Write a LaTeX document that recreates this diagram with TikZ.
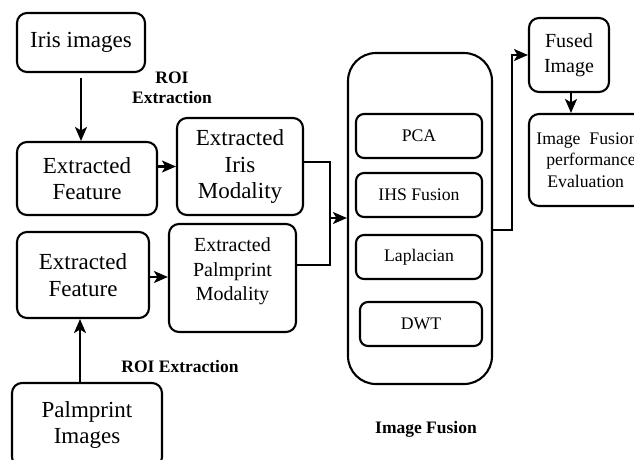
\documentclass[tikz,border=0pt]{standalone}
\usepackage{fontspec}
\setmainfont{Liberation Serif}
\usetikzlibrary{arrows.meta}
\begin{document}
\begin{tikzpicture}[x=1pt,y=-1pt,
  box/.style={draw,line width=2.1pt,rounded corners=10pt,align=center,inner sep=0pt},
  arr/.style={line width=2.1pt,-{Stealth[length=14pt,width=12pt,inset=3.5pt]}},
  ln/.style={line width=2.1pt},
  fbig/.style={font=\fontsize{23}{26.5}\selectfont},
  fmid/.style={font=\fontsize{20}{24.5}\selectfont},
  fsml/.style={font=\fontsize{17.7}{21.5}\selectfont},
  fbold/.style={font=\bfseries\fontsize{17.5}{20}\selectfont,align=center}]
\useasboundingbox (0,0) rectangle (634,459);
% left column
\node[box,fbig,minimum width=128pt,minimum height=59pt] (iris) at (81,42.5) {Iris images};
\node[box,fbig,minimum width=140pt,minimum height=73pt] (featT) at (87,178.5) {Extracted\\Feature};
\node[box,fbig,minimum width=126pt,minimum height=97pt] (irisMod) at (240,166.5) {Extracted\\Iris\\Modality};
\node[box,fbig,minimum width=132pt,minimum height=86pt] (featB) at (83,275) {Extracted\\Feature};
\node[box,minimum width=127pt,minimum height=108pt] (palmMod) at (232.5,278) {};
\node[fmid,align=center] (palmModTxt) at (232.5,271.5) {Extracted\\Palmprint\\Modality};
\node[box,fbig,minimum width=150pt,minimum height=84pt] (palmImg) at (87,425) {Palmprint\\Images};
% fusion block
\node[box,rounded corners=28pt,minimum width=144pt,minimum height=331pt] (fus) at (420,218.5) {};
\node[box,rounded corners=8pt,fsml,minimum width=126pt,minimum height=44pt] (pca) at (419,136) {PCA};
\node[box,rounded corners=8pt,fsml,minimum width=126pt,minimum height=44pt] (ihs) at (419,195) {IHS Fusion};
\node[box,rounded corners=8pt,fsml,minimum width=126pt,minimum height=44pt] (lap) at (419,257) {Laplacian};
\node[box,rounded corners=8pt,fsml,minimum width=122pt,minimum height=44pt] (dwt) at (421,324) {DWT};
% right column
\node[box,fmid,minimum width=80pt,minimum height=74pt] (fused) at (569,55) {Fused\\Image};
\node[box,fsml,align=left,minimum width=116pt,minimum height=92pt] (eval) at (587,160) {Image\ \ Fusion\\\hspace*{10pt}performance\\\hspace*{11pt}Evaluation};
% labels
\node[fbold] (roi1) at (172,88) {ROI\\Extraction};
\node[fbold] (roi2) at (180,367) {ROI Extraction};
\node[fbold] (fuslbl) at (426,429) {Image Fusion};
% connectors
\coordinate (j1) at (330,218);
\coordinate (j2) at (512,230);
\draw[arr] ([yshift=-5pt]iris.south) -- (iris.south |- featT.north);
\draw[arr] (featT.east |- irisMod.west) -- (irisMod.west);
\draw[arr] (featB.east |- 0,277) -- (palmMod.west |- 0,277);
\draw[arr] ([xshift=-7pt]palmImg.north) -- ([xshift=-7pt]palmImg.north |- featB.south);
\draw[ln] ([yshift=4.5pt]irisMod.east) -| (j1);
\draw[ln] ([yshift=13pt]palmMod.east) -| (j1);
\draw[arr] (j1) -- (fus.west |- j1);
\draw[arr] (fus.east |- j2) -- (j2) |- (fused.west);
\draw[arr] ([xshift=2pt]fused.south) -- ([xshift=2pt]fused.south |- eval.north);
\end{tikzpicture}
\end{document}
